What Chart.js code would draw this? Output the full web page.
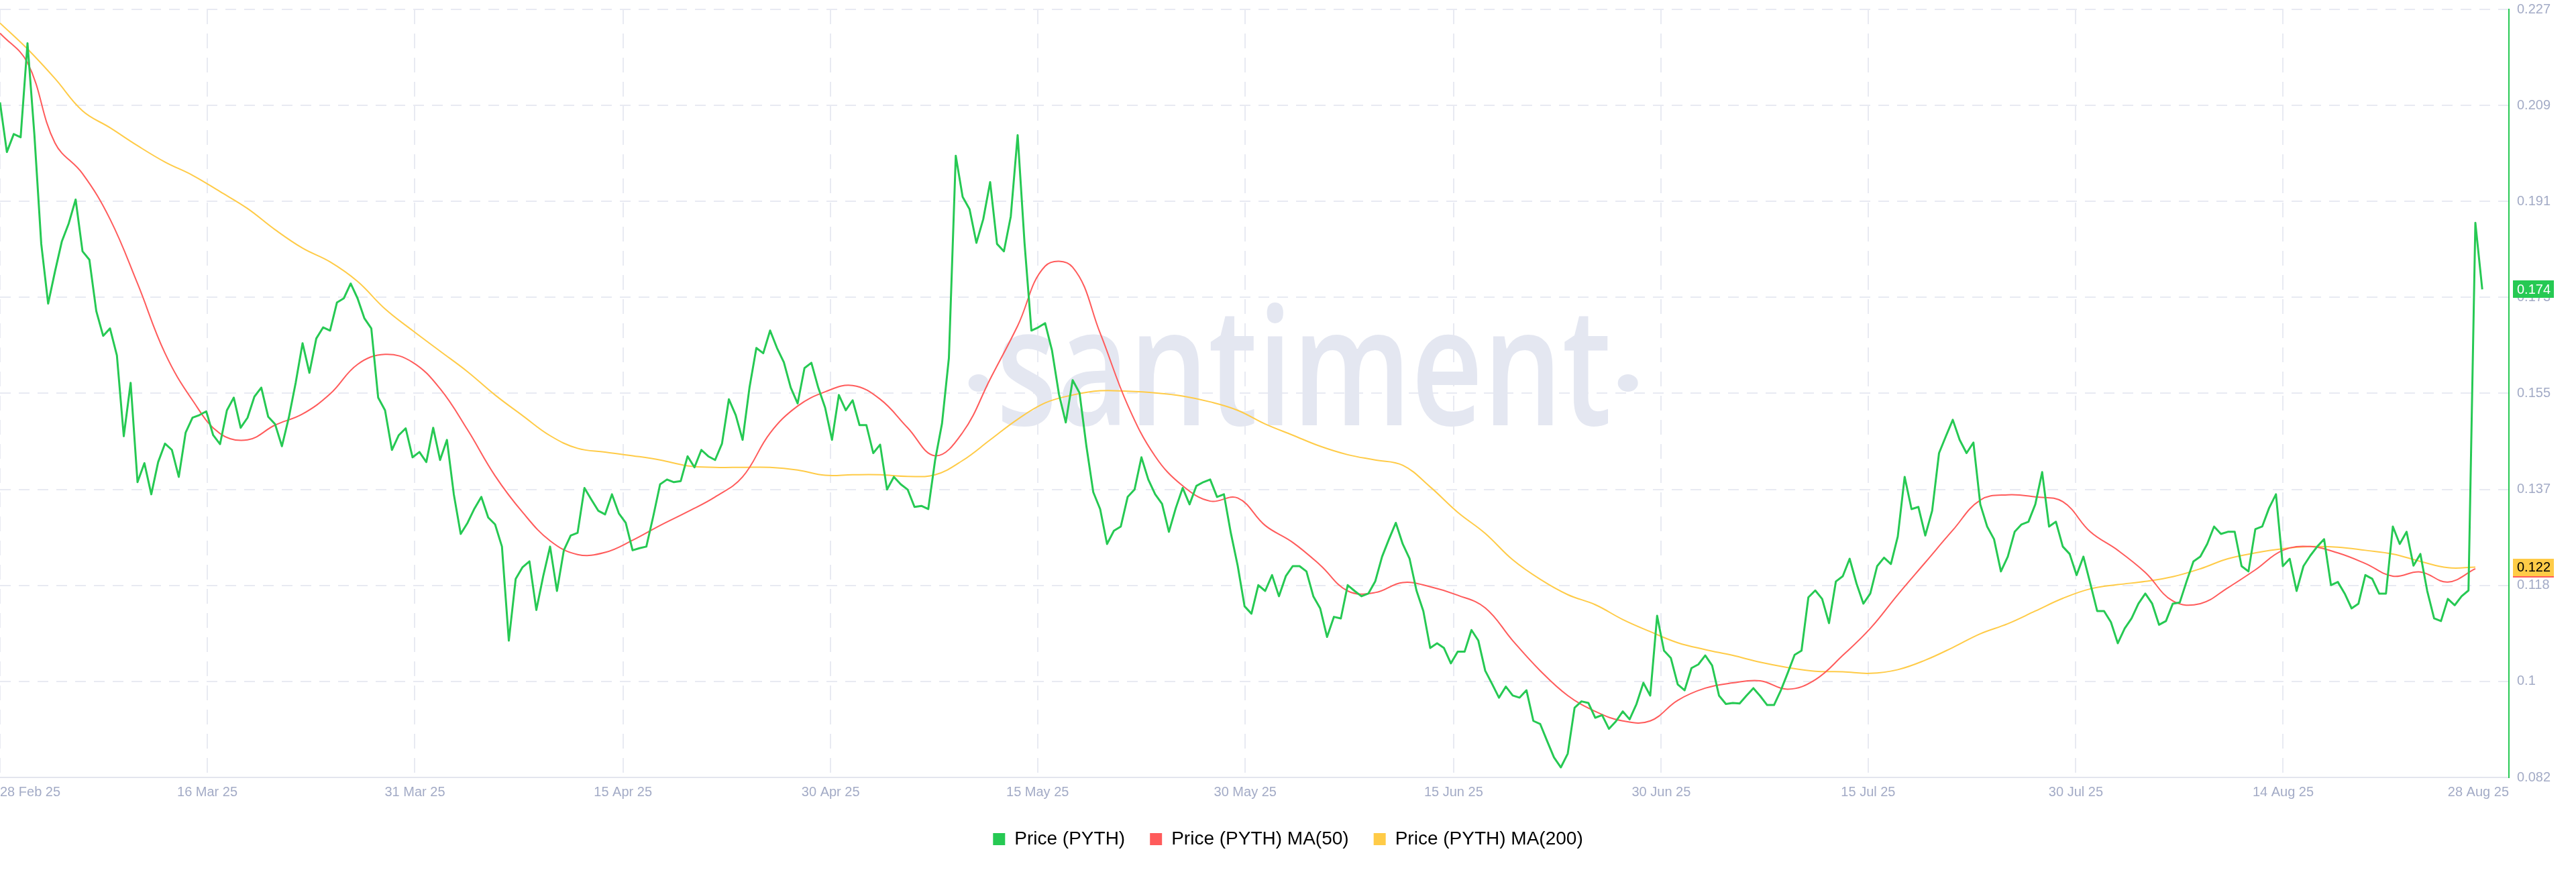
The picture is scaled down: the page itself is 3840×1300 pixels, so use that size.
<!DOCTYPE html>
<html>
<head>
<meta charset="utf-8">
<title>PYTH price</title>
<script src="https://cdn.jsdelivr.net/npm/chart.js@4.4.1/dist/chart.umd.min.js"></script>
<style>
  html, body { margin: 0; padding: 0; background: #fff; }
  #wrap { width: 3840px; height: 1300px; }
</style>
</head>
<body>
<div id="wrap"><canvas id="pythChart" width="3840" height="1300"></canvas></div>
<script>
// PYTH price, one value every 12h from 28 Feb 25 to 28 Aug 25 (last two = the 28 Aug spike)
const price = [
  0.2098,0.2004,0.2038,0.2032,0.2210,0.2037,0.1830,0.1717,0.1778,0.1835,
  0.1869,0.1914,0.1816,0.1800,0.1703,0.1656,0.1670,0.1619,0.1466,0.1567,
  0.1379,0.1415,0.1356,0.1417,0.1452,0.1440,0.1389,0.1473,0.1501,0.1506,
  0.1513,0.1468,0.1451,0.1515,0.1539,0.1482,0.1501,0.1541,0.1558,0.1503,
  0.1489,0.1447,0.1501,0.1567,0.1642,0.1586,0.1651,0.1672,0.1666,0.1719,
  0.1727,0.1755,0.1727,0.1689,0.1670,0.1539,0.1515,0.1440,0.1468,0.1481,
  0.1426,0.1436,0.1417,0.1482,0.1421,0.1459,0.1356,0.1281,0.1302,0.1329,
  0.1351,0.1312,0.1299,0.1257,0.1079,0.1196,0.1218,0.1229,0.1137,0.1201,
  0.1257,0.1173,0.1250,0.1278,0.1283,0.1368,0.1346,0.1325,0.1318,0.1356,
  0.1320,0.1302,0.1250,0.1254,0.1257,0.1314,0.1375,0.1384,0.1379,0.1381,
  0.1428,0.1407,0.1440,0.1428,0.1421,0.1452,0.1536,0.1506,0.1459,0.1558,
  0.1633,0.1623,0.1666,0.1633,0.1606,0.1558,0.1528,0.1595,0.1605,0.1558,
  0.1520,0.1459,0.1544,0.1515,0.1534,0.1487,0.1487,0.1434,0.1450,0.1365,
  0.1389,0.1375,0.1365,0.1332,0.1334,0.1328,0.1421,0.1490,0.1614,0.1997,
  0.1919,0.1896,0.1832,0.1877,0.1947,0.1830,0.1816,0.1882,0.2036,0.1832,
  0.1666,0.1672,0.1680,0.1628,0.1546,0.1492,0.1572,0.1548,0.1447,0.1360,
  0.1328,0.1262,0.1287,0.1295,0.1351,0.1365,0.1426,0.1384,0.1356,0.1338,
  0.1285,0.1330,0.1368,0.1337,0.1372,0.1379,0.1384,0.1351,0.1356,0.1283,
  0.1221,0.1144,0.1130,0.1184,0.1173,0.1203,0.1163,0.1201,0.1220,0.1220,
  0.1210,0.1163,0.1140,0.1086,0.1124,0.1121,0.1184,0.1173,0.1163,0.1168,
  0.1191,0.1238,0.1271,0.1302,0.1262,0.1234,0.1174,0.1135,0.1065,0.1074,
  0.1065,0.1036,0.1058,0.1058,0.1099,0.1079,0.1022,0.0997,0.0971,0.0992,
  0.0975,0.0971,0.0985,0.0927,0.0921,0.0889,0.0858,0.0839,0.0865,0.0952,
  0.0964,0.0961,0.0933,0.0938,0.0912,0.0926,0.0945,0.0930,0.0959,0.0999,
  0.0975,0.1126,0.1060,0.1046,0.0996,0.0985,0.1027,0.1034,0.1051,0.1032,
  0.0975,0.0959,0.0961,0.0960,0.0975,0.0989,0.0974,0.0957,0.0957,0.0985,
  0.1018,0.1052,0.1060,0.1161,0.1174,0.1158,0.1112,0.1191,0.1201,0.1234,
  0.1187,0.1149,0.1168,0.1220,0.1236,0.1224,0.1276,0.1389,0.1328,0.1332,
  0.1278,0.1325,0.1434,0.1466,0.1497,0.1459,0.1434,0.1454,0.1337,0.1295,
  0.1271,0.1210,0.1238,0.1285,0.1299,0.1304,0.1337,0.1398,0.1295,0.1304,
  0.1257,0.1243,0.1203,0.1238,0.1187,0.1135,0.1135,0.1114,0.1074,0.1102,
  0.1121,0.1149,0.1168,0.1149,0.1109,0.1116,0.1149,0.1151,0.1191,0.1229,
  0.1238,0.1262,0.1295,0.1281,0.1285,0.1285,0.1220,0.1210,0.1290,0.1295,
  0.1330,0.1356,0.1220,0.1234,0.1173,0.1220,0.1240,0.1257,0.1271,0.1184,
  0.1190,0.1168,0.1140,0.1149,0.1203,0.1196,0.1168,0.1168,0.1295,0.1262,
  0.1285,0.1221,0.1243,0.1173,0.1121,0.1116,0.1158,0.1146,0.1163,0.1174,
  0.1870,0.1744
];

// moving averages, one value every 2 days (every 4th price step)
const maStep = 4;
const ma50 = [
  0.2229,0.2173,0.2021,0.1963,0.1877,0.1755,0.1623,0.1534,0.1471,0.1459,
  0.1487,0.1508,0.1546,0.1602,0.1621,0.1606,0.1556,0.1478,0.1391,0.1322,
  0.1268,0.1242,0.1246,0.1269,0.1297,0.1323,0.1351,0.1389,0.1472,0.1523,
  0.1550,0.1562,0.1536,0.1482,0.1429,0.1473,0.1574,0.1675,0.1788,0.1786,
  0.1661,0.1525,0.1428,0.1372,0.1343,0.1349,0.1297,0.1265,0.1222,0.1173,
  0.1170,0.1189,0.1181,0.1165,0.1141,0.1079,0.1022,0.0975,0.0945,0.0927,
  0.0927,0.0966,0.0989,0.0999,0.1003,0.0987,0.1005,0.1051,0.1102,0.1166,
  0.1227,0.1288,0.1345,0.1355,0.1351,0.1342,0.1285,0.1250,0.1208,0.1154,
  0.1149,0.1179,0.1213,0.1250,0.1257,0.1245,0.1225,0.1201,0.1209,0.1190,0.1215
];
const ma200 = [
  0.2248,0.2199,0.2143,0.2082,0.2050,0.2016,0.1985,0.1960,0.1929,0.1897,
  0.1857,0.1822,0.1796,0.1759,0.1707,0.1666,0.1627,0.1588,0.1544,0.1505,
  0.1467,0.1443,0.1436,0.1429,0.1421,0.1410,0.1407,0.1407,0.1407,0.1402,
  0.1392,0.1393,0.1393,0.1390,0.1393,0.1420,0.1459,0.1498,0.1529,0.1544,
  0.1552,0.1551,0.1548,0.1542,0.1531,0.1515,0.1489,0.1468,0.1447,0.1431,
  0.1421,0.1411,0.1370,0.1322,0.1282,0.1232,0.1195,0.1166,0.1147,0.1119,
  0.1096,0.1075,0.1062,0.1051,0.1038,0.1028,0.1021,0.1020,0.1017,0.1024,
  0.1042,0.1066,0.1092,0.1111,0.1135,0.1159,0.1177,0.1185,0.1191,0.1200,
  0.1215,0.1234,0.1245,0.1253,0.1257,0.1256,0.1250,0.1243,0.1229,0.1217,0.1218
];

// axis ticks (x in 12h steps)
const xMax = 364.88;
const xTickPos = [0, 30.15, 60.34, 90.6, 120.8, 150.9, 181.1, 211.4, 241.6, 271.7, 301.9, 332.05, 364.88];
const xTickLabels = ['28 Feb 25','16 Mar 25','31 Mar 25','15 Apr 25','30 Apr 25','15 May 25',
  '30 May 25','15 Jun 25','30 Jun 25','15 Jul 25','30 Jul 25','14 Aug 25','28 Aug 25'];
const yMin = 0.082, yMax = 0.2274;
const yTickLabels = ['0.082','0.1','0.118','0.137','0.155','0.173','0.191','0.209','0.227'];

const GREEN = '#26c953', RED = '#ff5b5b', YELLOW = '#ffcb47';
const AXIS_TEXT = '#a3abc6';
const GRID = '#e8eaf2';

Chart.defaults.font.family = '"Liberation Sans", Arial, sans-serif';

const watermark = {
  id: 'watermark',
  beforeDatasetsDraw(chart) {
    const { ctx, chartArea } = chart;
    const cx = chartArea.left + chartArea.width * 0.5197;
    const base = chartArea.top + chartArea.height * 0.5415;
    const dotY = chartArea.top + chartArea.height * 0.4865;
    ctx.save();
    ctx.fillStyle = '#e4e7f1';
    ctx.font = '600 245px "Open Sans", "DejaVu Sans", sans-serif';
    ctx.textAlign = 'center';
    ctx.textBaseline = 'alphabetic';
    const w = ctx.measureText('santiment').width;
    ctx.translate(cx, base);
    ctx.scale(917 / w, 1);
    ctx.fillText('santiment', 0, 0);
    ctx.restore();
    ctx.save();
    ctx.fillStyle = '#e4e7f1';
    [cx - 485, cx + 483].forEach(x => {
      ctx.beginPath();
      ctx.ellipse(x, dotY, 15, 13, 0, 0, Math.PI * 2);
      ctx.fill();
    });
    ctx.restore();
  }
};

const lastValueTags = {
  id: 'lastValueTags',
  afterDraw(chart) {
    const { ctx, chartArea } = chart;
    const tags = [
      { ds: 1, bg: RED, fg: '#ffffff' },
      { ds: 2, bg: YELLOW, fg: '#000000' },
      { ds: 0, bg: GREEN, fg: '#ffffff' }
    ];
    ctx.save();
    ctx.font = '20px "Liberation Sans", Arial, sans-serif';
    ctx.textBaseline = 'middle';
    ctx.textAlign = 'left';
    tags.forEach(t => {
      const d = chart.data.datasets[t.ds].data;
      const last = d[d.length - 1];
      const y = chart.scales.y.getPixelForValue(last.y);
      ctx.fillStyle = t.bg;
      ctx.fillRect(chartArea.right + 6, Math.round(y - 13), 61, 26);
      ctx.fillStyle = t.fg;
      ctx.fillText(last.y.toFixed(3), chartArea.right + 12, y + 1);
    });
    ctx.restore();
  }
};

const ctx = document.getElementById('pythChart').getContext('2d');

new Chart(ctx, {
  type: 'line',
  data: {
    datasets: [{
      label: 'Price (PYTH)',
      data: price.map((v, i) => ({ x: i, y: v })),
      borderColor: GREEN,
      backgroundColor: GREEN,
      borderWidth: 3,
      borderJoinStyle: 'round',
      pointRadius: 0,
      tension: 0
    }, {
      label: 'Price (PYTH) MA(50)',
      data: ma50.map((v, j) => ({ x: j * maStep, y: v })),
      borderColor: RED,
      backgroundColor: RED,
      borderWidth: 2,
      pointRadius: 0,
      tension: 0.4
    }, {
      label: 'Price (PYTH) MA(200)',
      data: ma200.map((v, j) => ({ x: j * maStep, y: v })),
      borderColor: YELLOW,
      backgroundColor: YELLOW,
      borderWidth: 2,
      pointRadius: 0,
      tension: 0.4
    }]
  },
  options: {
    responsive: false,
    devicePixelRatio: 1,
    animation: false,
    events: [],
    layout: { padding: { top: 14, left: 0, right: 0, bottom: 25 } },
    plugins: {
      tooltip: { enabled: false },
      legend: {
        position: 'bottom',
        labels: {
          boxWidth: 18,
          boxHeight: 18,
          padding: 37,
          color: '#181a2e',
          font: { size: 28 },
          generateLabels: (chart) => chart.data.datasets.map((ds, i) => ({
            text: ds.label,
            fillStyle: ds.borderColor,
            strokeStyle: ds.borderColor,
            lineWidth: 0,
            hidden: false,
            datasetIndex: i
          }))
        }
      }
    },
    scales: {
      x: {
        type: 'linear',
        min: 0,
        max: xMax,
        afterBuildTicks: (scale) => { scale.ticks = xTickPos.map(v => ({ value: v })); },
        afterFit: (scale) => { scale.height = 41; scale.paddingLeft = 0; scale.paddingRight = 0; },
        grid: { color: GRID, lineWidth: 2, drawTicks: false },
        border: { display: true, color: '#e3e5ee', width: 2, dash: [22, 14] },
        ticks: {
          autoSkip: false,
          maxRotation: 0,
          align: 'inner',
          padding: 10,
          color: AXIS_TEXT,
          font: { size: 20 },
          callback: (value, index) => xTickLabels[index]
        }
      },
      y: {
        position: 'right',
        min: yMin,
        max: yMax,
        afterBuildTicks: (scale) => {
          scale.ticks = yTickLabels.map((_, k) => ({ value: yMin + k * (yMax - yMin) / (yTickLabels.length - 1) }));
        },
        afterFit: (scale) => { scale.width = 100; scale.paddingTop = 0; scale.paddingBottom = 0; },
        grid: { color: GRID, lineWidth: 2, drawTicks: false },
        border: { display: true, color: GREEN, width: 2, dash: [16, 12] },
        ticks: {
          padding: 12,
          color: AXIS_TEXT,
          font: { size: 20 },
          callback: (value, index) => yTickLabels[index]
        }
      }
    }
  },
  plugins: [watermark, lastValueTags]
});
</script>
</body>
</html>
